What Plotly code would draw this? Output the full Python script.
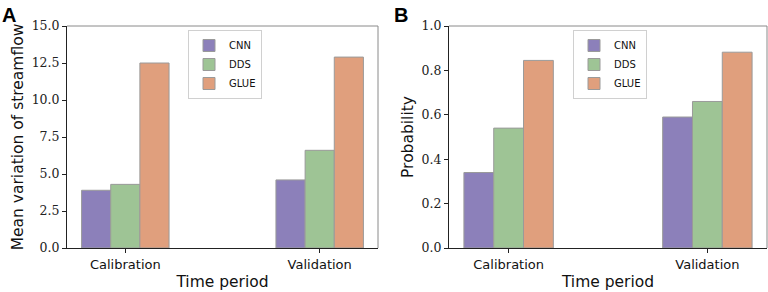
import plotly.graph_objects as go

categories = ["Calibration", "Validation"]
methods = ["CNN", "DDS", "GLUE"]
colors = ["#8c80ba", "#9ec495", "#e09f7d"]

mean_variation = {
    "CNN": [3.9, 4.6],
    "DDS": [4.3, 6.6],
    "GLUE": [12.5, 12.9],
}
probability = {
    "CNN": [0.34, 0.59],
    "DDS": [0.54, 0.66],
    "GLUE": [0.845, 0.882],
}
yticks_a = [0, 2.5, 5, 7.5, 10, 12.5, 15]
yticks_b = [0, 0.2, 0.4, 0.6, 0.8, 1.0]

W, H = 768, 292
ML, MR, MT, MB = 0, 0, 26, 44
PW, PH = W - ML - MR, H - MT - MB

fig = go.Figure()
for i, m in enumerate(methods):
    fig.add_trace(go.Bar(x=categories, y=mean_variation[m], name=m, marker_color=colors[i],
                         marker_line_color="#9a9a9a", marker_line_width=1,
                         offsetgroup=m, xaxis="x", yaxis="y", legend="legend"))
for i, m in enumerate(methods):
    fig.add_trace(go.Bar(x=categories, y=probability[m], name=m, marker_color=colors[i],
                         marker_line_color="#9a9a9a", marker_line_width=1,
                         offsetgroup=m, xaxis="x2", yaxis="y2", legend="legend2"))

serif = "DejaVu Serif"
sans = "DejaVu Sans"

xcommon = dict(type="category", range=[-0.3, 1.3], showline=True, linecolor="#222", linewidth=1,
               ticks="outside", ticklen=4, tickcolor="#222", tickfont=dict(family=sans, size=13, color="#111"),
               showgrid=False, zeroline=False, automargin=False,
               title=dict(text="Time period", font=dict(family=sans, size=15.5, color="#111"), standoff=5))
ycommon = dict(showline=True, linecolor="#222", linewidth=1, ticks="outside", ticklen=4, tickcolor="#222",
               tickfont=dict(family=serif, size=12.5, color="#222"), showgrid=False, zeroline=False,
               automargin=False, tickformat=".1f")

fig.update_layout(
    width=W, height=H, margin=dict(l=ML, r=MR, t=MT, b=MB),
    plot_bgcolor="white", paper_bgcolor="white",
    barmode="group", bargap=0.55, bargroupgap=0,
    xaxis=dict(domain=[67 / W, 378 / W], anchor="y", **xcommon),
    yaxis=dict(domain=[0, 1], anchor="x", range=[0, 15], tickvals=yticks_a,
               title=dict(text="Mean variation of streamflow", font=dict(family=sans, size=15.5, color="#111"), standoff=4),
               **ycommon),
    xaxis2=dict(domain=[449 / W, 767 / W], anchor="y2", **xcommon),
    yaxis2=dict(domain=[0, 1], anchor="x2", range=[0, 1], tickvals=yticks_b,
                title=dict(text="Probability", font=dict(family=sans, size=15.5, color="#111"), standoff=4),
                **ycommon),
    legend=dict(x=188 / W, y=(H - MB - 30) / PH, xanchor="left", yanchor="top",
                bgcolor="white", bordercolor="#d0d0d0", borderwidth=1,
                font=dict(family=sans, size=10, color="#111"), tracegroupgap=0),
    legend2=dict(x=573 / W, y=(H - MB - 30) / PH, xanchor="left", yanchor="top",
                 bgcolor="white", bordercolor="#d0d0d0", borderwidth=1,
                 font=dict(family=sans, size=10, color="#111"), tracegroupgap=0),
    showlegend=True,
)

for xd in ["x domain", "x2 domain"]:
    yd = "y domain" if xd == "x domain" else "y2 domain"
    fig.add_shape(type="line", xref=xd, yref=yd, x0=0, x1=1, y0=1, y1=1, line=dict(color="#8a8a8a", width=1))
    fig.add_shape(type="line", xref=xd, yref=yd, x0=1, x1=1, y0=0, y1=1, line=dict(color="#8a8a8a", width=1))

fig.add_annotation(text="<b>A</b>", x=0, y=(H - MB - 2) / PH, xref="paper", yref="paper",
                   xanchor="left", yanchor="top", showarrow=False,
                   font=dict(family="Liberation Sans", size=20, color="black"))
fig.add_annotation(text="<b>B</b>", x=392 / W, y=(H - MB - 2) / PH, xref="paper", yref="paper",
                   xanchor="left", yanchor="top", showarrow=False,
                   font=dict(family="Liberation Sans", size=20, color="black"))

fig.write_html("out.html", config={"displayModeBar": False},
               post_script="document.body.style.margin='0';document.body.style.overflow='hidden';")
